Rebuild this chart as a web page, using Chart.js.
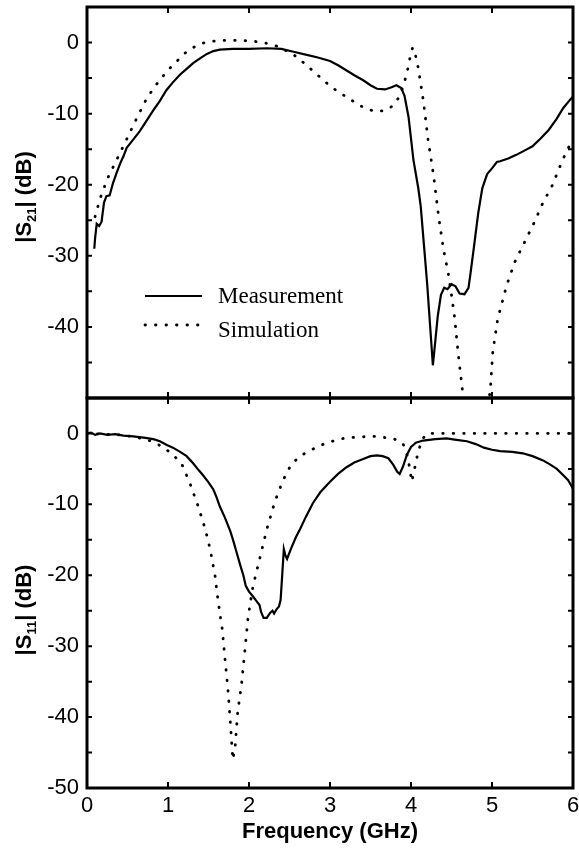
<!DOCTYPE html>
<html>
<head>
<meta charset="utf-8">
<title>|S21| and |S11| vs Frequency</title>
<script src="https://cdn.jsdelivr.net/npm/chart.js@4.4.0/dist/chart.umd.min.js"></script>
<style>
  body { margin: 0; background: #fff; }
  #wrap { position: relative; width: 579px; height: 854px; overflow: hidden; }
  #topChart { position: absolute; left: 0; top: 0; }
  #botChart { position: absolute; left: 0; top: 390px; }
</style>
</head>
<body>
<div id="wrap">
  <canvas id="topChart" width="579" height="400"></canvas>
  <canvas id="botChart" width="579" height="464"></canvas>
</div>
<script>
// tick labels
const FREQ_TICKS = [0, 1, 2, 3, 4, 5, 6];
const S21_TICKS = [0, -10, -20, -30, -40];
const S11_TICKS = [0, -10, -20, -30, -40, -50];

// |S21| measured (GHz, dB)
const s21MeasF = [0.09, 0.10, 0.12, 0.15, 0.18, 0.21, 0.24, 0.28, 0.32, 0.37, 0.41, 0.45, 0.49, 0.56, 0.65,
  0.74, 0.82, 0.90, 0.98, 1.06, 1.15, 1.23, 1.31, 1.40, 1.48, 1.56, 1.64, 1.80, 2.00, 2.22, 2.40, 2.55,
  2.70, 2.85, 3.00, 3.10, 3.20, 3.30, 3.41, 3.50, 3.58, 3.68, 3.76, 3.82, 3.88, 3.92, 3.97, 4.03, 4.09,
  4.12, 4.16, 4.20, 4.24, 4.27, 4.30, 4.33, 4.37, 4.41, 4.45, 4.50, 4.55, 4.60, 4.66, 4.71, 4.74, 4.78,
  4.83, 4.88, 4.94, 5.00, 5.06, 5.10, 5.20, 5.30, 5.40, 5.50, 5.60, 5.70, 5.80, 5.88, 5.96, 6.00];
const s21MeasDb = [-29.0, -27.5, -25.5, -25.8, -25.2, -22.5, -21.6, -21.5, -19.8, -18.2, -17.0, -16.0, -14.8, -13.8, -12.5,
  -10.9, -9.5, -8.2, -6.7, -5.6, -4.5, -3.7, -2.9, -2.2, -1.6, -1.2, -1.0, -0.9, -0.9, -0.8, -0.9, -1.3,
  -1.7, -2.1, -2.6, -3.2, -3.9, -4.6, -5.3, -6.0, -6.5, -6.6, -6.3, -6.0, -6.4, -7.5, -10.5, -16.5, -20.5,
  -23.0, -28.5, -34.0, -40.5, -45.4, -42.0, -38.5, -35.5, -34.5, -34.7, -34.0, -34.3, -35.3, -35.4, -34.5, -32.0, -28.5,
  -24.0, -20.5, -18.5, -17.7, -16.8, -16.7, -16.3, -15.8, -15.2, -14.6, -13.5, -12.3, -10.7, -9.2, -8.1, -7.6];

// |S21| simulated
const s21SimF = [0.10, 0.16, 0.25, 0.37, 0.49, 0.62, 0.74, 0.85, 0.94, 1.04, 1.13, 1.22, 1.31, 1.40, 1.48,
  1.64, 1.90, 2.14, 2.25, 2.34, 2.45, 2.55, 2.67, 2.79, 2.90, 3.02, 3.14, 3.25, 3.36, 3.47, 3.57, 3.65,
  3.74, 3.80, 3.85, 3.90, 3.95, 3.99, 4.02, 4.05, 4.09, 4.15, 4.21, 4.28, 4.34, 4.40, 4.46, 4.50, 4.54,
  4.58, 4.63, 4.70, 4.80, 4.90, 4.98, 5.01, 5.07, 5.18, 5.28, 5.41, 5.53, 5.63, 5.74, 5.84, 5.92, 6.00];
const s21SimDb = [-24.5, -22.0, -19.2, -16.4, -13.6, -10.5, -7.8, -6.0, -4.7, -3.4, -2.4, -1.4, -0.7, -0.2, 0.1,
  0.3, 0.3, 0.1, -0.2, -0.5, -1.1, -1.7, -2.8, -4.0, -5.1, -6.3, -7.2, -8.0, -8.8, -9.4, -9.7, -9.6,
  -9.2, -8.6, -7.7, -6.3, -4.3, -2.0, -0.7, -1.5, -3.6, -8.0, -13.6, -18.8, -24.4, -29.0, -32.5, -35.5, -38.8,
  -43.5, -48.4, -56.0, -60.0, -56.0, -48.7, -43.5, -38.9, -34.2, -30.9, -27.9, -25.1, -22.5, -20.2, -17.4, -15.3, -13.6];

// |S11| measured
const s11MeasF = [0.00, 0.05, 0.10, 0.16, 0.25, 0.35, 0.45, 0.57, 0.70, 0.82, 0.90, 0.98, 1.06, 1.15, 1.23,
  1.31, 1.38, 1.44, 1.50, 1.56, 1.60, 1.64, 1.70, 1.77, 1.81, 1.85, 1.89, 1.93, 1.96, 2.00, 2.05, 2.09,
  2.13, 2.15, 2.18, 2.22, 2.26, 2.29, 2.31, 2.34, 2.37, 2.39, 2.41, 2.43, 2.45, 2.47, 2.52, 2.58, 2.63,
  2.70, 2.79, 2.88, 3.00, 3.10, 3.20, 3.30, 3.41, 3.50, 3.58, 3.65, 3.72, 3.78, 3.83, 3.86, 3.90, 3.95,
  4.00, 4.06, 4.15, 4.30, 4.44, 4.56, 4.69, 4.80, 4.90, 5.00, 5.10, 5.25, 5.38, 5.50, 5.63, 5.72, 5.80,
  5.88, 5.94, 6.00];
const s11MeasDb = [0.0, 0.1, -0.2, 0.0, -0.2, -0.1, -0.3, -0.4, -0.6, -0.8, -1.1, -1.6, -2.0, -2.6, -3.2,
  -4.2, -5.2, -6.0, -6.9, -7.9, -9.0, -10.3, -11.8, -13.8, -15.3, -16.9, -18.5, -20.0, -21.5, -22.3, -23.0, -23.6,
  -24.2, -25.2, -26.0, -26.0, -25.3, -25.0, -25.4, -24.8, -24.4, -23.5, -20.0, -16.3, -17.2, -17.7, -16.2, -14.6, -13.5,
  -11.8, -9.8, -8.3, -6.8, -5.7, -4.8, -4.1, -3.6, -3.2, -3.1, -3.2, -3.5, -4.4, -5.4, -5.7, -4.7, -3.0,
  -1.9, -1.3, -1.0, -0.8, -0.7, -0.9, -1.1, -1.5, -2.0, -2.3, -2.5, -2.6, -2.8, -3.2, -3.8, -4.4, -5.0,
  -5.9, -6.6, -7.8];

// |S11| simulated
const s11SimF = [0.00, 0.20, 0.40, 0.60, 0.80, 0.95, 1.07, 1.17, 1.27, 1.37, 1.46, 1.52, 1.58, 1.62, 1.67,
  1.70, 1.74, 1.77, 1.80, 1.83, 1.86, 1.91, 1.95, 1.99, 2.05, 2.14, 2.22, 2.32, 2.42, 2.52, 2.63, 2.75,
  2.96, 3.20, 3.53, 3.78, 3.90, 3.96, 4.01, 4.04, 4.09, 4.14, 4.20, 5.00, 6.00];
const s11SimDb = [0.0, -0.1, -0.2, -0.5, -1.1, -2.0, -3.1, -4.3, -7.0, -10.2, -13.5, -16.3, -20.0, -23.8, -27.6,
  -31.4, -36.1, -40.8, -46.0, -44.0, -39.4, -35.1, -30.5, -25.8, -21.5, -17.3, -13.5, -9.6, -6.6, -4.4, -3.2, -2.4,
  -1.3, -0.6, -0.4, -0.7, -1.4, -3.3, -6.8, -5.2, -2.5, -0.8, 0.0, 0.0, 0.0];

const pts = (xs, ys) => xs.map((f, i) => ({ x: f, y: ys[i] }));

Chart.defaults.font.family = '"Liberation Sans", Arial, sans-serif';
Chart.defaults.color = '#000';

const SIM_DASH = [0.5, 10];

function measSet(data) {
  return { label: 'Measurement', data: data, borderColor: '#000', borderWidth: 2.2,
    pointRadius: 0, fill: false, tension: 0 };
}
function simSet(data) {
  return { label: 'Simulation', data: data, borderColor: '#000', borderWidth: 2.8,
    borderDash: SIM_DASH, borderCapStyle: 'round', pointRadius: 0, fill: false, tension: 0 };
}

// frame, inward ticks, rotated y title with subscript, and the legend
const framePlugin = {
  id: 'frame',
  afterDatasetsDraw(chart, args, opts) {
    const { ctx, chartArea: a, scales: { x, y } } = chart;
    ctx.save();
    ctx.strokeStyle = '#000';
    ctx.lineWidth = 3;
    ctx.strokeRect(a.left, a.top, a.right - a.left, a.bottom - a.top);

    ctx.lineWidth = 2;
    ctx.beginPath();
    FREQ_TICKS.slice(1, -1).forEach(v => {
      const px = x.getPixelForValue(v);
      ctx.moveTo(px, a.bottom); ctx.lineTo(px, a.bottom - 6);
      ctx.moveTo(px, a.top); ctx.lineTo(px, a.top + 6);
    });
    for (let v = -45; v <= 0; v += 5) {
      const py = y.getPixelForValue(v);
      ctx.moveTo(a.left, py); ctx.lineTo(a.left + 5, py);
      ctx.moveTo(a.right, py); ctx.lineTo(a.right - 5, py);
    }
    ctx.stroke();

    // y title: |S21| (dB)
    const big = 'bold 22px "Liberation Sans", Arial, sans-serif';
    const small = 'bold 13px "Liberation Sans", Arial, sans-serif';
    const parts = [['|S', big, 0], [opts.sub, small, 5], ['| (dB)', big, 0]];
    ctx.translate(31, opts.titleY);
    ctx.rotate(-Math.PI / 2);
    ctx.fillStyle = '#000';
    ctx.textBaseline = 'alphabetic';
    let total = 0;
    parts.forEach(p => { ctx.font = p[1]; total += ctx.measureText(p[0]).width; });
    let cx = -total / 2;
    parts.forEach(p => {
      ctx.font = p[1];
      ctx.fillText(p[0], cx, p[2]);
      cx += ctx.measureText(p[0]).width;
    });
    ctx.setTransform(1, 0, 0, 1, 0, 0);

    if (opts.legend) {
      const ds = chart.data.datasets;
      const rows = [[296, 303], [325, 337]];
      ds.forEach((d, i) => {
        const [ly, ty] = rows[i];
        ctx.lineWidth = d.borderWidth;
        ctx.lineCap = d.borderCapStyle || 'butt';
        ctx.setLineDash(d.borderDash || []);
        ctx.beginPath();
        ctx.moveTo(145, ly); ctx.lineTo(202, ly);
        ctx.stroke();
        ctx.setLineDash([]);
        ctx.font = '23px "Liberation Serif", "Times New Roman", serif';
        ctx.fillText(d.label, 218, ty);
      });
    }
    ctx.restore();
  }
};

function xScale(show) {
  return {
    type: 'linear', min: 0, max: 6, display: show,
    afterBuildTicks: s => { s.ticks = FREQ_TICKS.map(v => ({ value: v })); },
    afterFit: s => {
      if (show) s.height = 66;
      s.paddingLeft = 0; s.paddingRight = 0;
    },
    grid: { display: false, drawTicks: false },
    border: { display: false },
    ticks: { font: { size: 22 }, color: '#000', padding: 5, maxRotation: 0, autoSkip: false },
    title: { display: show, text: 'Frequency (GHz)', color: '#000',
      font: { size: 22, weight: 'bold' }, padding: { top: 0, bottom: 9 } }
  };
}
function yScale(ticks) {
  return {
    type: 'linear', min: -50, max: 5,
    afterBuildTicks: s => { s.ticks = ticks.map(v => ({ value: v })); },
    afterFit: s => { s.width = 87; s.paddingTop = 0; s.paddingBottom = 0; },
    grid: { display: false, drawTicks: false },
    border: { display: false },
    ticks: { font: { size: 22 }, color: '#000', padding: 8 }
  };
}

new Chart(document.getElementById('topChart'), {
  type: 'line',
  data: { datasets: [measSet(pts(s21MeasF, s21MeasDb)), simSet(pts(s21SimF, s21SimDb))] },
  options: {
    responsive: false, animation: false, events: [],
    layout: { padding: { left: 0, right: 6, top: 7, bottom: 2 } },
    scales: { x: xScale(false), y: yScale(S21_TICKS) },
    plugins: { legend: { display: false }, tooltip: { enabled: false },
      frame: { sub: '21', titleY: 197, legend: true } }
  },
  plugins: [framePlugin]
});

new Chart(document.getElementById('botChart'), {
  type: 'line',
  data: { datasets: [measSet(pts(s11MeasF, s11MeasDb)), simSet(pts(s11SimF, s11SimDb))] },
  options: {
    responsive: false, animation: false, events: [],
    layout: { padding: { left: 0, right: 6, top: 8, bottom: 0 } },
    scales: { x: xScale(true), y: yScale(S11_TICKS) },
    plugins: { legend: { display: false }, tooltip: { enabled: false },
      frame: { sub: '11', titleY: 220, legend: false } }
  },
  plugins: [framePlugin]
});
</script>
</body>
</html>
